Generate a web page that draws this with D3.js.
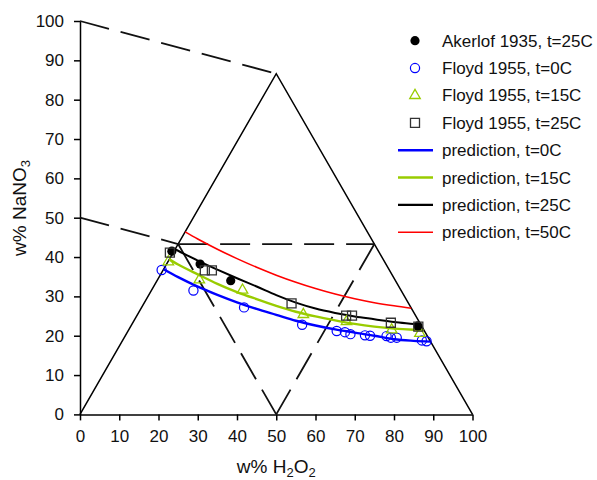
<!DOCTYPE html>
<html>
<head>
<meta charset="utf-8">
<script src="https://cdn.jsdelivr.net/npm/d3@7"></script>
<style>
  html, body { margin: 0; padding: 0; background: #fff; }
  svg { display: block; font-family: "Liberation Sans", Arial, Helvetica, sans-serif; }
</style>
</head>
<body>
<svg id="chart" width="597" height="480"></svg>
<script>
// ---- measured solubility points (plot coordinates: w% H2O2 axis, w% NaNO3 axis) ----
const akerlofX = [23.4, 30.6, 38.4, 86.1];
const akerlofY = [41.5, 38.2, 34.0, 22.5];

const floyd0X = [20.8, 28.9, 41.8, 56.6, 65.4, 67.5, 68.9, 72.6, 73.9, 78.1, 79.2, 80.7, 87.1, 88.3];
const floyd0Y = [36.7, 31.5, 27.2, 22.8, 21.2, 20.9, 20.4, 20.1, 20.0, 19.9, 19.5, 19.5, 18.8, 18.6];

const floyd15X = [22.5, 30.4, 41.4, 56.9, 67.9, 79.4, 86.6];
const floyd15Y = [38.8, 34.2, 31.6, 25.4, 23.6, 21.5, 20.6];

const floyd25X = [22.9, 31.8, 33.6, 53.9, 67.8, 69.3, 79.2, 86.2];
const floyd25Y = [41.1, 36.6, 36.6, 28.2, 25.1, 25.1, 23.3, 22.3];

// ---- model predictions ----
const pred0X = [21.3, 25, 30, 35, 40, 45, 50, 55, 60, 65, 70, 75, 80, 85, 89.3];
const pred0Y = [36.9, 34.9, 32.5, 30.4, 28.5, 26.8, 25.3, 23.8, 22.6, 21.6, 20.8, 20.0, 19.1, 18.7, 18.5];

const pred15X = [22.7, 25, 30, 35, 40, 45, 50, 55, 60, 65, 70, 75, 80, 85, 87.6];
const pred15Y = [39.4, 38.1, 35.6, 33.2, 31.1, 29.3, 27.6, 26.1, 24.9, 23.9, 23.0, 22.3, 21.8, 21.5, 21.4];

const pred25X = [24.2, 25, 30, 35, 40, 45, 50, 55, 60, 65, 70, 75, 80, 85, 86.9];
const pred25Y = [42.0, 41.6, 39.1, 36.8, 34.6, 32.5, 30.3, 28.4, 26.9, 25.8, 24.9, 24.2, 23.5, 23.0, 22.8];

const pred50X = [26.8, 30, 35, 40, 45, 50, 55, 60, 65, 70, 75, 80, 84.4];
const pred50Y = [46.4, 44.6, 42.0, 39.6, 37.4, 35.4, 33.6, 32.0, 30.6, 29.4, 28.4, 27.6, 27.0];

// ---- axes ----
const xTicks = [0, 10, 20, 30, 40, 50, 60, 70, 80, 90, 100];
const yTicks = [0, 10, 20, 30, 40, 50, 60, 70, 80, 90, 100];

// ---- legend ----
const legendLabels = [
  "Akerlof 1935, t=25C",
  "Floyd 1955, t=0C",
  "Floyd 1955, t=15C",
  "Floyd 1955, t=25C",
  "prediction, t=0C",
  "prediction, t=15C",
  "prediction, t=25C",
  "prediction, t=50C"
];

const BLUE = "#0000ff", GREEN = "#99cc00", BLACK = "#000000", RED = "#ff0000";

const svg = d3.select("#chart");
const x = d3.scaleLinear().domain([0, 100]).range([80, 472.5]);
const y = d3.scaleLinear().domain([0, 100]).range([414.4, 21]);

const pairs = (xs, ys) => xs.map((v, i) => [v, ys[i]]);
const H = 50 * Math.sqrt(3); // apex height of the ternary triangle

// ---- axes ----
const gx = svg.append("g")
  .attr("transform", `translate(0,${y(0)})`)
  .call(d3.axisBottom(x).tickValues(xTicks).tickSize(6).tickSizeOuter(0).tickPadding(10));
const gy = svg.append("g")
  .attr("transform", `translate(${x(0)},0)`)
  .call(d3.axisLeft(y).tickValues(yTicks).tickSize(6).tickSizeOuter(0).tickPadding(10));
[gx, gy].forEach(g => {
  g.selectAll("path, line").attr("stroke", "#000").attr("stroke-width", 1.5);
  g.selectAll("text").attr("font-size", 17).attr("fill", "#111")
    .attr("font-family", '"Liberation Sans", Arial, sans-serif');
});

// axis titles
const xt = svg.append("text")
  .attr("x", (x(0) + x(100)) / 2).attr("y", 473)
  .attr("text-anchor", "middle").attr("font-size", 19).attr("fill", "#111");
xt.append("tspan").text("w% H");
xt.append("tspan").attr("font-size", 13).attr("dy", 4).text("2");
xt.append("tspan").attr("dy", -4).text("O");
xt.append("tspan").attr("font-size", 13).attr("dy", 4).text("2");

const yt = svg.append("text")
  .attr("transform", `translate(26,${208}) rotate(-90)`)
  .attr("text-anchor", "middle").attr("font-size", 19).attr("fill", "#111");
yt.append("tspan").text("w% NaNO");
yt.append("tspan").attr("font-size", 13).attr("dy", 4).text("3");

// ---- ternary frame ----
const lineGen = d3.line().x(d => x(d[0])).y(d => y(d[1]));
svg.append("path")
  .attr("d", lineGen([[0, 0], [50, H], [100, 0]]))
  .attr("fill", "none").attr("stroke", "#000").attr("stroke-width", 1.5);

const dashed = [
  [[0, 100], [50, H]],
  [[0, 50], [25, H / 2]],
  [[25, H / 2], [75, H / 2]],
  [[25, H / 2], [50, 0]],
  [[75, H / 2], [50, 0]]
];
svg.append("g").selectAll("path").data(dashed).join("path")
  .attr("d", d => lineGen(d))
  .attr("fill", "none").attr("stroke", "#111").attr("stroke-width", 1.8)
  .attr("stroke-dasharray", "30,12");

// ---- prediction curves ----
const curve = d3.line().x(d => x(d[0])).y(d => y(d[1])).curve(d3.curveMonotoneX);
const preds = [
  { xs: pred50X, ys: pred50Y, color: RED, w: 1.6 },
  { xs: pred0X, ys: pred0Y, color: BLUE, w: 2.4 },
  { xs: pred15X, ys: pred15Y, color: GREEN, w: 2.4 },
  { xs: pred25X, ys: pred25Y, color: BLACK, w: 2.0 }
];
svg.append("g").selectAll("path").data(preds).join("path")
  .attr("d", d => curve(pairs(d.xs, d.ys)))
  .attr("fill", "none").attr("stroke", d => d.color).attr("stroke-width", d => d.w)
  .attr("stroke-linejoin", "round");

// ---- measured points ----
const triSym = d3.symbol(d3.symbolTriangle, 48);
const sqSym = d3.symbol(d3.symbolSquare, 81);

svg.append("g").selectAll("circle").data(pairs(floyd0X, floyd0Y)).join("circle")
  .attr("cx", d => x(d[0])).attr("cy", d => y(d[1])).attr("r", 4.6)
  .attr("fill", "none").attr("stroke", BLUE).attr("stroke-width", 1.2);

svg.append("g").selectAll("path").data(pairs(floyd15X, floyd15Y)).join("path")
  .attr("d", triSym).attr("transform", d => `translate(${x(d[0])},${y(d[1])})`)
  .attr("fill", "none").attr("stroke", GREEN).attr("stroke-width", 1.3);

svg.append("g").selectAll("circle").data(pairs(akerlofX, akerlofY)).join("circle")
  .attr("cx", d => x(d[0])).attr("cy", d => y(d[1])).attr("r", 4.6)
  .attr("fill", "#000");

svg.append("g").selectAll("path").data(pairs(floyd25X, floyd25Y)).join("path")
  .attr("d", sqSym).attr("transform", d => `translate(${x(d[0])},${y(d[1])})`)
  .attr("fill", "none").attr("stroke", "#333").attr("stroke-width", 1.3);

// ---- legend ----
const lgX = 415, lgText = 442, lgTop = 40.7, lgStep = 27.37;
const legend = svg.append("g");
const symRows = [
  g => g.append("circle").attr("r", 4.6).attr("fill", "#000"),
  g => g.append("circle").attr("r", 4.6).attr("fill", "none").attr("stroke", BLUE).attr("stroke-width", 1.2),
  g => g.append("path").attr("d", triSym()).attr("fill", "none").attr("stroke", GREEN).attr("stroke-width", 1.3),
  g => g.append("path").attr("d", sqSym()).attr("fill", "none").attr("stroke", "#333").attr("stroke-width", 1.3)
];
const lineRows = [BLUE, GREEN, BLACK, RED];
legendLabels.forEach((label, i) => {
  const cy = lgTop + i * lgStep;
  const row = legend.append("g").attr("transform", `translate(0,${cy})`);
  if (i < 4) {
    symRows[i](row.append("g").attr("transform", `translate(${lgX},0)`));
  } else {
    row.append("line").attr("x1", 398).attr("x2", 433).attr("y1", 0).attr("y2", 0)
      .attr("stroke", lineRows[i - 4]).attr("stroke-width", i === 7 ? 1.6 : 2.4);
  }
  row.append("text").attr("x", lgText).attr("y", 0).attr("dy", "0.35em")
    .attr("font-size", 17).attr("fill", "#111").text(label);
});
</script>
</body>
</html>
